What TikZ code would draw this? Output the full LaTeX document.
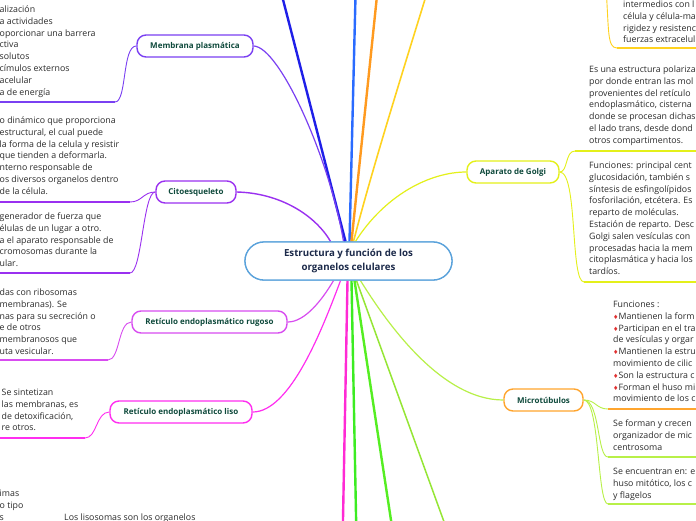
\documentclass[tikz,border=0pt]{standalone}
\usepackage{fontspec}
\setmainfont{Open Sans}
\newfontfamily\symf{DejaVu Sans}
\usetikzlibrary{calc}
\definecolor{blueA}{HTML}{1F1FE8}
\definecolor{blueB}{HTML}{2A6BFF}
\definecolor{orA}{HTML}{FF9A1F}
\definecolor{yeA}{HTML}{FFD21F}
\definecolor{golgiC}{HTML}{E4F01A}
\definecolor{memC}{HTML}{7A40F2}
\definecolor{citoC}{HTML}{9A30F0}
\definecolor{rugC}{HTML}{D84CF0}
\definecolor{lisoC}{HTML}{FF2EF0}
\definecolor{magL}{HTML}{FF2AD4}
\definecolor{grA}{HTML}{3CEC22}
\definecolor{grB}{HTML}{55EE22}
\definecolor{limeA}{HTML}{95E635}
\definecolor{limeB}{HTML}{B8F048}
\definecolor{microC}{HTML}{FFA52E}
\definecolor{centC}{HTML}{5AA2DB}
\definecolor{nodeT}{HTML}{0F4A3C}
\definecolor{centT}{HTML}{1C2A4A}
\definecolor{bodyT}{HTML}{2B2B2B}
\definecolor{dred}{HTML}{E03030}
\newcommand\mytab[1]{\begin{tabular}{@{}l@{}}#1\end{tabular}}
\newcommand\dmd{{\symf\color{dred}\fontsize{6}{6}\selectfont ♦}}
\tikzset{
  orgbox/.style={draw, line width=1.4pt, fill=white, rounded corners=9pt, minimum height=22pt, inner sep=0pt, font=\fontsize{8}{10}\selectfont\bfseries, text=nodeT},
  txt/.style={anchor=north west, inner sep=0pt, font=\fontsize{8.8}{11.8}\selectfont, text=bodyT},
  thick conn/.style={line width=2.4pt},
  thin conn/.style={line width=1.2pt},
  uline/.style={line width=2pt},
  sub conn/.style={line width=0.9pt},
  centbox/.style={draw=centC, line width=1.3pt, fill=white, rounded corners=19pt, minimum width=207pt, minimum height=38pt, inner sep=0pt, align=center, font=\fontsize{9.7}{14}\selectfont\bfseries, text=centT}
}
\begin{document}
\begin{tikzpicture}[x=1pt,y=-1pt]
\useasboundingbox (0,0) rectangle (696,520);
\clip (0,0) rectangle (696,520);
\fill[white] (0,0) rectangle (696,520);

% center node
\node[centbox] (c) at (348.5,261) {Estructura y función de los\\organelos celulares};

% main nodes
\node[orgbox, draw=memC, minimum width=116pt] (mem) at (195,46) {Membrana plasmática};
\node[orgbox, draw=citoC, minimum width=80pt] (cito) at (196,192) {Citoesqueleto};
\node[orgbox, draw=rugC, minimum width=155pt] (rug) at (209.5,322) {Retículo endoplasmático rugoso};
\node[orgbox, draw=lisoC, minimum width=142pt] (liso) at (181,412) {Retículo endoplasmático liso};
\node[orgbox, draw=golgiC, minimum width=92pt] (golgi) at (513,172) {Aparato de Golgi};
\node[orgbox, draw=microC, minimum width=79pt] (micro) at (543.5,400) {Microtúbulos};

% off-canvas ends
\coordinate (bt1) at (280,-12);
\coordinate (bt2) at (355.7,-12);
\coordinate (ot) at (377.8,-12);
\coordinate (yt) at (428.5,-12);
\coordinate (mb) at (342.8,530);
\coordinate (gb1) at (356.3,530);
\coordinate (gb2) at (392.5,530);
\coordinate (lb) at (447,530);

% connectors from center
\draw[thick conn, blueA] ([xshift=-3pt]c.north) -- (bt1);
\draw[thin conn, memC] (mem.east) .. controls (280,47) and (330,160) .. ([xshift=-5pt]c.north);
\draw[thick conn, blueB] ([xshift=1pt]c.north) -- (bt2);
\draw[thick conn, orA] ([xshift=3pt]c.north) -- (ot);
\draw[line width=1.6pt, yeA] ([xshift=5pt]c.north) .. controls (372,170) and (400,80) .. (yt);
\draw[thin conn, golgiC] ([xshift=7pt]c.north) .. controls (385,195) and (430,172) .. (golgi.west);
\draw[line width=1.4pt, citoC] (cito.east) .. controls (280,193) and (315,215) .. ([xshift=-18pt]c.north);
\draw[thin conn, rugC] (rug.east) .. controls (305,322) and (322,300) .. ([xshift=-15pt]c.south);
\draw[thin conn, lisoC] (liso.east) .. controls (290,412) and (322,330) .. ([xshift=-8pt]c.south);
\draw[thick conn, magL] ([xshift=-1pt]c.south) -- (mb);
\draw[thick conn, grA] ([xshift=3pt]c.south) -- (gb1);
\draw[thick conn, grB] ([xshift=6pt]c.south) -- (gb2);
\draw[line width=1.5pt, limeA] ([xshift=8pt]c.south) -- (lb);
\draw[thin conn, limeB] ([xshift=12pt]c.south) .. controls (385,320) and (440,400) .. (micro.west);

% redraw center box on top of the connector ends
\node[centbox] (c2) at (348.5,261) {Estructura y función de los\\organelos celulares};

% ---- left children ----
% Membrana plasmatica
\node[txt] (memt) at (-0.5,4.1) {\mytab{alización\\a actividades\\oporcionar una barrera\\ctiva\\solutos\\címulos externos\\acelular\\a de energía}};
\coordinate (mu0) at (-5,102);
\coordinate (mu) at (115,102);
\draw[uline, memC] (mu0) -- (mu);
\draw[sub conn, memC] (mu) .. controls (127,102) and (122,46) .. (mem.west);

% Citoesqueleto
\node[txt] (cit1) at (-0.5,115.1) {\mytab{o dinámico que proporciona\\estructural, el cual puede\\la forma de la celula y resistir\\que tienden a deformarla.\\nterno responsable de\\os diversos organelos dentro\\de la célula.}};
\node[txt] (cit2) at (-0.5,211.1) {\mytab{generador de fuerza que\\élulas de un lugar a otro.\\a el aparato responsable de\\cromosomas durante la\\ular.}};
\coordinate (cu10) at (-5,202);
\coordinate (cu1) at (130,202);
\coordinate (cu20) at (-5,273);
\coordinate (cu2) at (130,273);
\draw[uline, citoC] (cu10) -- (cu1);
\draw[uline, citoC] (cu20) -- (cu2);
\draw[sub conn, citoC] (cu1) .. controls (142,202) and (143,192) .. (cito.west);
\draw[sub conn, citoC] (cu2) .. controls (142,273) and (143,192) .. (cito.west);

% RE rugoso
\node[txt] (rugt) at (-0.5,287.1) {\mytab{das con ribosomas\\membranas). Se\\nas para su secreción o\\e de otros\\membranosos que\\uta vesicular.}};
\coordinate (ru0) at (-5,360);
\coordinate (ru) at (108,360);
\draw[uline, rugC] (ru0) -- (ru);
\draw[sub conn, rugC] (ru) .. controls (120,360) and (118,322) .. (rug.west);

% RE liso
\node[txt] (lisot) at (1.5,387.1) {\mytab{Se sintetizan\\las membranas, es\\de detoxificación,\\re otros.}};
\coordinate (lu0) at (-5,438);
\coordinate (lu) at (85,438);
\draw[uline, lisoC] (lu0) -- (lu);
\draw[sub conn, lisoC] (lu) .. controls (97,438) and (96,412) .. (liso.west);

% bottom left
\node[txt] (bl1) at (-0.5,488.1) {\mytab{imas\\o tipo\\s}};
\node[txt] (bl2) at (64,512.1) {\mytab{Los lisosomas son los organelos}};

% ---- right children ----
% top right (yellow)
\coordinate (ytr) at (606,-12);
\coordinate (ytu) at (617,48);
\coordinate (ytu1) at (700,48);
\node[txt] (trt) at (623,-0.9) {\mytab{intermedios con l\\célula y célula-ma\\rigidez y resistenc\\fuerzas extracelul}};
\draw[sub conn, yeA] (ytr) .. controls (609,30) and (607,48) .. (ytu);
\draw[uline, yeA] (ytu) -- (ytu1);

% Golgi
\node[txt] (g1) at (589,64.1) {\mytab{Es una estructura polariza\\por donde entran las mol\\provenientes del retículo\\endoplasmático, cisterna\\donde se procesan dichas\\el lado trans, desde dond\\otros compartimentos.}};
\node[txt] (g2) at (589,160.1) {\mytab{Funciones: principal cent\\glucosidación, también s\\síntesis de esfingolípidos\\fosforilación, etcétera. Es\\reparto de moléculas.\\Estación de reparto. Desc\\Golgi salen vesículas con\\procesadas hacia la mem\\citoplasmática y hacia los\\tardíos.}};
\coordinate (gu1) at (575,151);
\coordinate (gu1e) at (700,151);
\coordinate (gu2) at (584,282);
\coordinate (gu2e) at (700,282);
\draw[sub conn, golgiC] (golgi.east) .. controls (568,172) and (565,151) .. (gu1);
\draw[uline, golgiC] (gu1) -- (gu1e);
\draw[sub conn, golgiC] (golgi.east) .. controls (578,172) and (570,282) .. (gu2);
\draw[uline, golgiC] (gu2) -- (gu2e);

% Microtubulos
\node[txt] (m1) at (613,299.1) {\mytab{Funciones :\\\dmd Mantienen la form\\\dmd Participan en el tra\\de vesículas y orgar\\\dmd Mantienen la estru\\movimiento de cilic\\\dmd Son la estructura c\\\dmd Forman el huso mi\\movimiento de los c}};
\node[txt] (m2) at (613,418.1) {\mytab{Se forman y crecen\\organizador de mic\\centrosoma}};
\node[txt] (m3) at (613,466.1) {\mytab{Se encuentran en: e\\huso mitótico, los c\\y flagelos}};
\coordinate (mu1) at (608,409);
\coordinate (mu1e) at (700,409);
\coordinate (mu2) at (608,457);
\coordinate (mu2e) at (700,457);
\coordinate (mu3) at (608,504);
\coordinate (mu3e) at (700,504);
\draw[sub conn, limeB] (micro.east) .. controls (596,400) and (596,409) .. (mu1);
\draw[uline, microC] (mu1) -- (mu1e);
\draw[sub conn, limeB] (micro.east) .. controls (600,400) and (597,457) .. (mu2);
\draw[uline, limeB] (mu2) -- (mu2e);
\draw[sub conn, limeB] (micro.east) .. controls (600,400) and (597,504) .. (mu3);
\draw[uline, limeB] (mu3) -- (mu3e);
\end{tikzpicture}
\end{document}
